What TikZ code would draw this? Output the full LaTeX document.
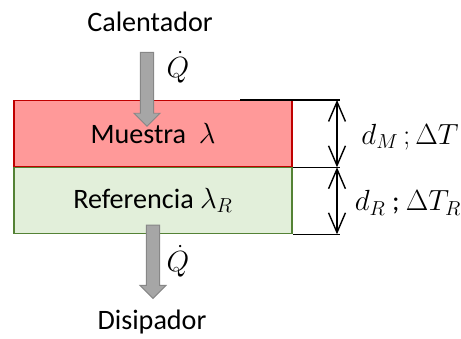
\documentclass[tikz,border=0pt]{standalone}
\usepackage{fontspec}
\setmainfont{Carlito}
\usetikzlibrary{arrows.meta,shapes.arrows}
\definecolor{sampleFill} {HTML}{FF9999}
\definecolor{sampleEdge} {HTML}{C00000}
\definecolor{refFill}    {HTML}{E2EFDA}
\definecolor{refEdge}    {HTML}{548235}
\definecolor{heatFill}   {HTML}{A6A6A6}
\definecolor{heatEdge}   {HTML}{878787}

\begin{document}
\begin{tikzpicture}[
  x=0.025cm, y=-0.025cm,
  font=\fontsize{20}{24}\selectfont,
  layer/.style={rectangle, minimum width=6.95cm, minimum height=1.65cm,
                inner sep=0pt, line width=1.1pt},
  heat/.style={single arrow, shape border rotate=270, fill=heatFill, draw=heatEdge,
               line width=0.7pt, inner sep=4.3pt, minimum width=17.8pt,
               single arrow head extend=4.6pt},
  qlab/.style={inner sep=1pt},
  ext/.style={black, line width=1pt},
  dim/.style={{Straight Barb[length=14pt,width=12pt]}-{Straight Barb[length=14pt,width=12pt]},
              black, line width=1pt}
]
\useasboundingbox (0,0) rectangle (461,338);

% sample and reference layers
\node[layer, fill=sampleFill, draw=sampleEdge] (muestra) at (153,133.5)
  {Muestra \ $\lambda$};
\node[layer, fill=refFill, draw=refEdge] (refer) at (153,200.5)
  {Referencia $\lambda_R$};

% heat flow in and out
\node (calent) at (150,22) {Calentador};
\node[heat, minimum height=52.6pt] (qin) at (147,86) {};
\node[qlab] (qinlab) at (178,67) {$\dot{Q}$};

\node[heat, minimum height=52pt] (qout) at (153,258.5) {};
\node[qlab] (qoutlab) at (178,261) {$\dot{Q}$};
\node (disip) at (152,322) {Disipador};

% thickness markers
\coordinate (topL) at (240,100);
\coordinate (topR) at (340,100);
\coordinate (midR) at (muestra.south east -| topR);
\coordinate (botR) at (refer.south east -| topR);
\draw[ext] (topL) -- (topR);
\draw[ext] (muestra.south east) -- (midR);
\draw[ext] (refer.south east) -- (botR);

\coordinate (dA) at (337,100);
\coordinate (dB) at (muestra.south east -| dA);
\coordinate (dC) at (refer.south east -| dA);
\draw[dim] (dA) -- (dB);
\draw[dim] (dB) -- (dC);

\node (dmlab) at (410,137) {$d_M\,;\Delta T$};
\node (drlab) at (408,203) {$d_R$ ; $\Delta T_R$};
\end{tikzpicture}
\end{document}
